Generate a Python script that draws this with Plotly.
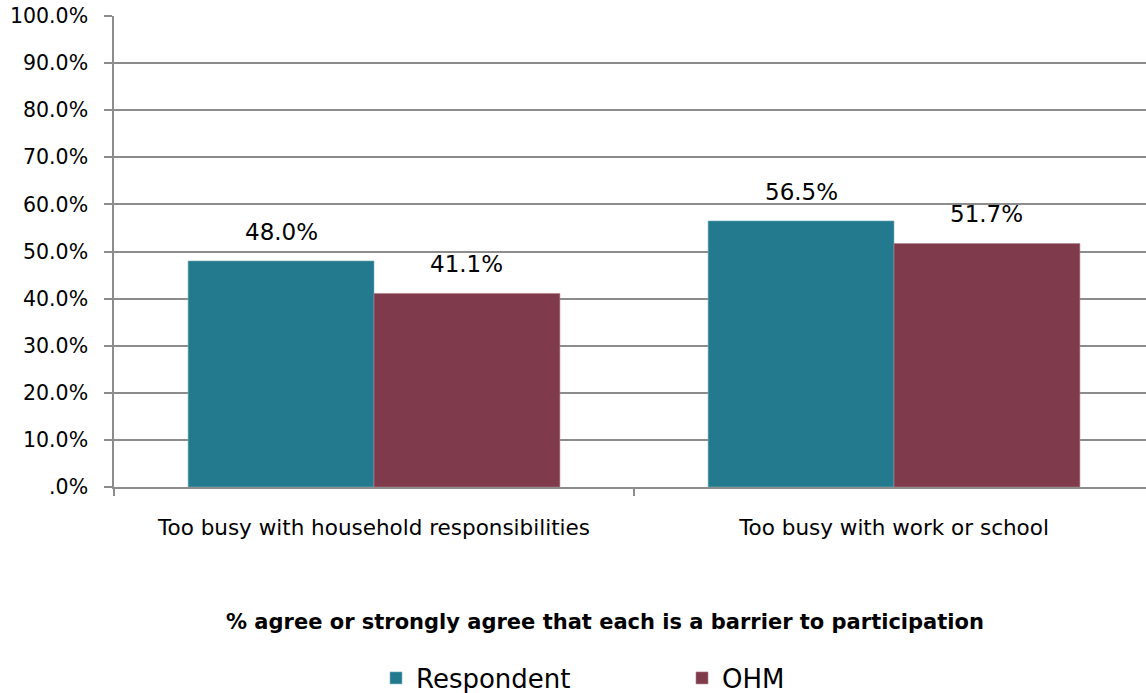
import plotly.graph_objects as go

categories = ["Too busy with household responsibilities", "Too busy with work or school"]
respondent = [0.480, 0.565]
ohm = [0.411, 0.517]
series_names = ["Respondent", "OHM"]
y_tickvals = [0, 0.1, 0.2, 0.3, 0.4, 0.5, 0.6, 0.7, 0.8, 0.9, 1.0]
y_ticktext = [".0%", "10.0%", "20.0%", "30.0%", "40.0%", "50.0%", "60.0%", "70.0%", "80.0%", "90.0%", "100.0%"]
x_title = "% agree or strongly agree that each is a barrier to participation"

FONT = "DejaVu Sans, Open Sans, sans-serif"
TEAL = "#237A8F"
MAROON = "#7F3B4B"
GRID = "#8C8C8C"

BARGAP = 0.285
bar_w = (1 - BARGAP) / 2

fig = go.Figure()
fig.add_trace(go.Bar(x=categories, y=respondent, name=series_names[0],
                     marker=dict(color=TEAL, line=dict(color="#7FB3C0", width=0.6))))
fig.add_trace(go.Bar(x=categories, y=ohm, name=series_names[1],
                     marker=dict(color=MAROON, line=dict(color="#B07F8A", width=0.6))))

annotations = []
for i, (a, b) in enumerate(zip(respondent, ohm)):
    for val, off in ((a, -bar_w / 2), (b, bar_w / 2)):
        annotations.append(dict(x=i + off, y=val, xref="x", yref="y",
                                text=f"{val*100:.1f}%", showarrow=False,
                                yanchor="bottom", yshift=14,
                                font=dict(family=FONT, size=23, color="#000")))
annotations.append(dict(x=(605 - 114) / 1032, y=-(622 - 487) / 471, xref="paper", yref="paper",
                        text=f"<b>{x_title}</b>", showarrow=False, yanchor="middle",
                        font=dict(family=FONT, size=21, color="#000")))

fig.update_layout(
    width=1146, height=693,
    margin=dict(l=114, r=0, t=16, b=206, autoexpand=False),
    paper_bgcolor="white", plot_bgcolor="white",
    barmode="group", bargap=BARGAP, bargroupgap=0,
    font=dict(family=FONT, size=21, color="#000"),
    showlegend=True,
    legend=dict(orientation="h", x=(376 - 114) / 1032, xanchor="left",
                y=-(678 - 487) / 471, yanchor="middle",
                font=dict(family=FONT, size=26, color="#000"),
                entrywidth=261, entrywidthmode="pixels", itemwidth=30),
    annotations=annotations,
    xaxis=dict(type="category", range=[-0.5, 1.5 - 8 / 520],
               showline=True, linecolor=GRID, linewidth=1.5,
               ticks="outside", tickson="boundaries", ticklen=7, tickcolor=GRID, tickwidth=1.5,
               ticklabelstandoff=20, tickfont=dict(family=FONT, size=21.5, color="#000"),
               showgrid=False, zeroline=False, fixedrange=True),
    yaxis=dict(range=[0, 1], tickvals=y_tickvals, ticktext=y_ticktext,
               showline=True, linecolor=GRID, linewidth=1.5,
               ticks="outside", ticklen=8, tickcolor=GRID, tickwidth=1.5,
               ticklabelstandoff=12, tickfont=dict(family=FONT, size=20.5, color="#000"),
               showgrid=True, gridcolor=GRID, gridwidth=1.5, zeroline=False),
)

fig.write_html("out.html")
